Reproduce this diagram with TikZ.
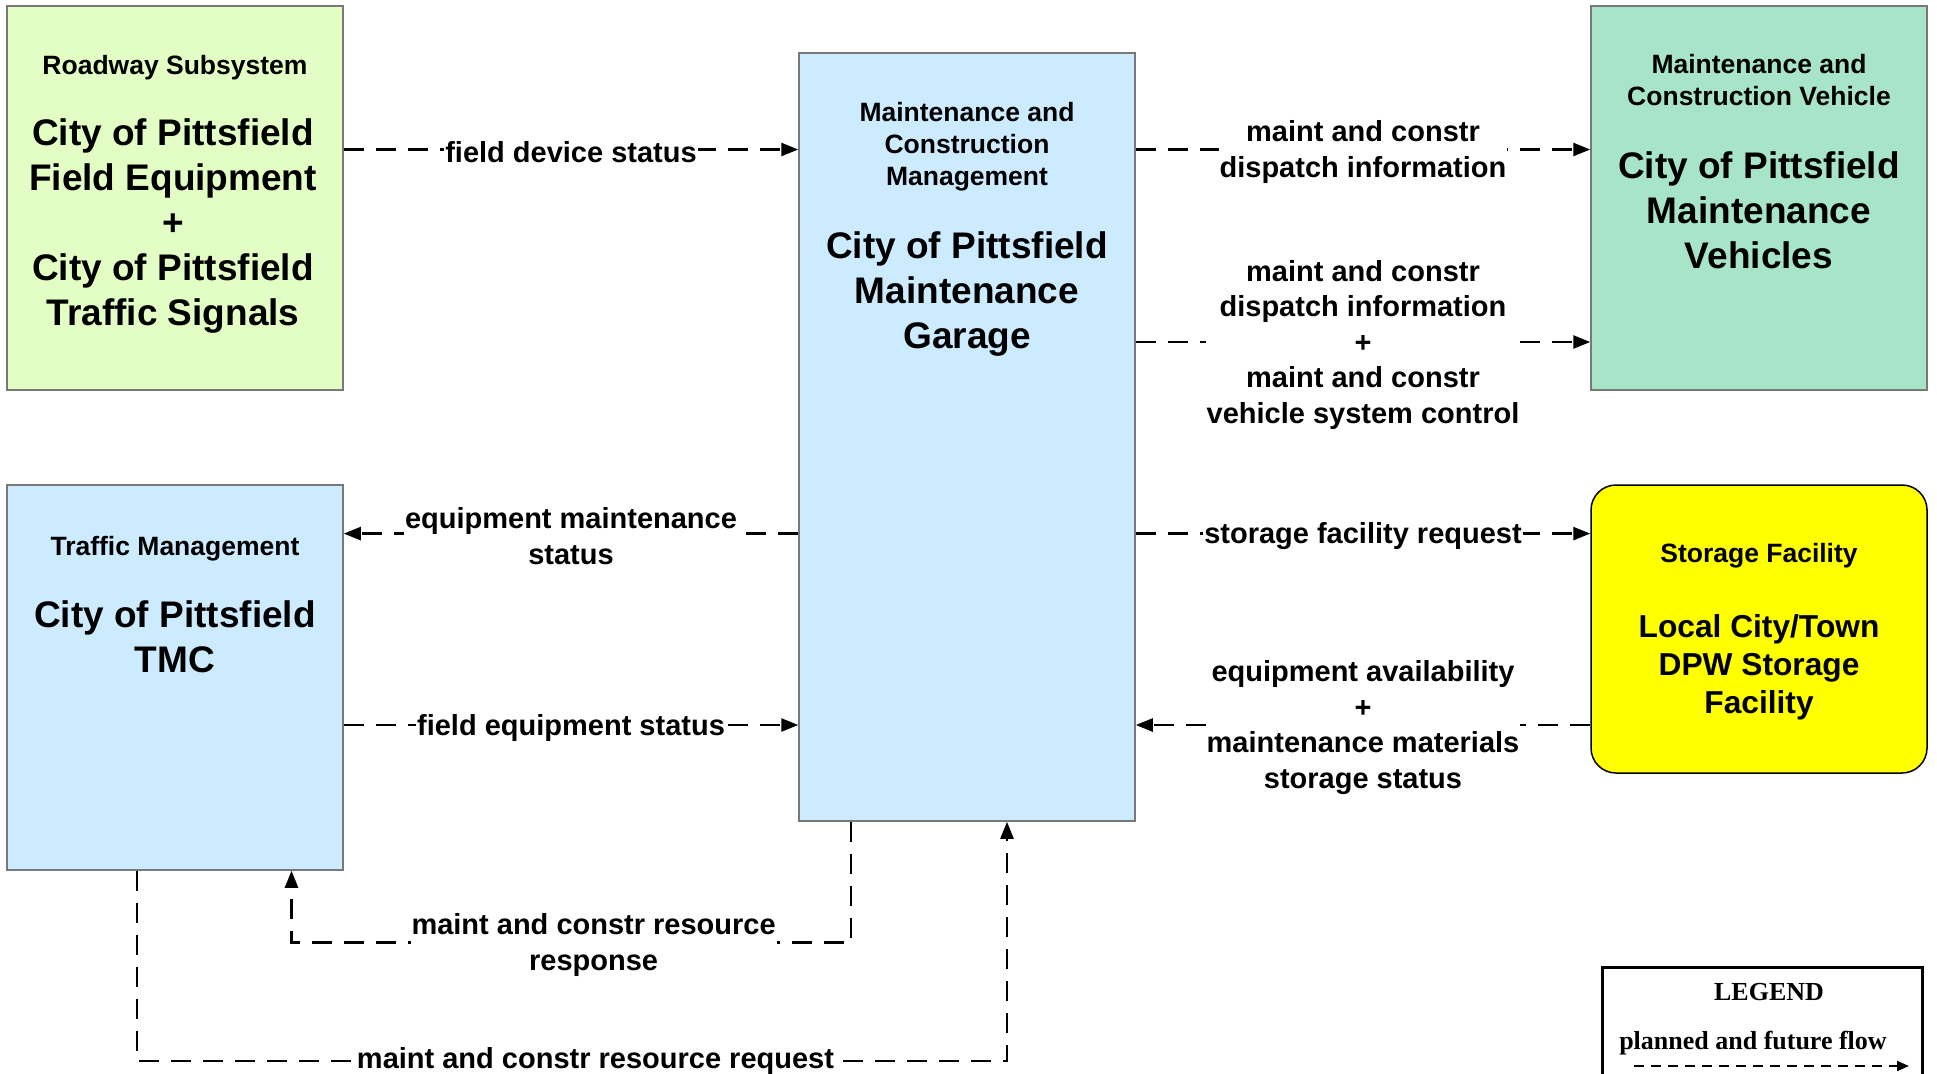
\documentclass[tikz,border=0pt]{standalone}
\usepackage{fontspec}
\setmainfont{Liberation Sans}
\newfontfamily\legserif{Liberation Serif}
\usetikzlibrary{arrows.meta}
\definecolor{boxgray}{RGB}{120,120,120}
\definecolor{limefill}{RGB}{226,254,196}
\definecolor{bluefill}{RGB}{204,235,255}
\definecolor{mintfill}{RGB}{168,228,200}
\definecolor{yellowfill}{RGB}{255,255,0}
\tikzset{
  box/.style={draw=boxgray, line width=1.5pt, inner sep=0pt},
  subttl/.style={font=\fontsize{26.5}{32}\selectfont\bfseries, align=center},
  bigttl/.style={font=\fontsize{37}{45}\selectfont\bfseries, align=center},
  lbl/.style={font=\fontsize{29}{35.5}\selectfont\bfseries, align=center, fill=white, inner sep=1pt, yshift=-2.5pt},
  flow/.style={line width=2.5pt, dash pattern=on 20pt off 12pt, -{Triangle[length=17pt,width=13pt]}},
}
\begin{document}
\begin{tikzpicture}[x=1pt,y=-1pt]
\useasboundingbox (0,0) rectangle (1937,1073);
\fill[white] (0,0) rectangle (1937,1073);

% boxes
\node[box, fill=limefill, minimum width=336pt, minimum height=384pt] (rs) at (175,198) {};
\node[box, fill=bluefill, minimum width=336pt, minimum height=768pt] (mcm) at (967,437) {};
\node[box, fill=mintfill, minimum width=336pt, minimum height=384pt] (mcv) at (1759,198) {};
\node[box, fill=bluefill, minimum width=336pt, minimum height=385pt] (tm) at (175,677.5) {};
\node[box, draw=black, rounded corners=25pt, fill=yellowfill, minimum width=336pt, minimum height=288pt] (sf) at (1759,629) {};

% box texts
\node[subttl] (rssub) at (175,67.5) {Roadway Subsystem};
\node[bigttl] (rsttl) at (173,226.5) {City of Pittsfield\\Field Equipment\\+\\City of Pittsfield\\Traffic Signals};

\node[subttl] (mcmsub) at (967,146.5) {Maintenance and\\Construction\\Management};
\node[bigttl] (mcmttl) at (967,294) {City of Pittsfield\\Maintenance\\Garage};

\node[subttl] (mcvsub) at (1759,80) {Maintenance and\\Construction Vehicle};
\node[bigttl] (mcvttl) at (1759,210.5) {City of Pittsfield\\Maintenance\\Vehicles};

\node[subttl] (tmsub) at (175,548.5) {Traffic Management};
\node[bigttl] (tmttl) at (175,636.5) {City of Pittsfield\\TMC};

\node[subttl] (sfsub) at (1759,555.5) {Storage Facility};
\node[font=\fontsize{31.7}{38}\selectfont\bfseries, align=center] (sfttl) at (1759,667.5) {Local City/Town\\DPW Storage\\Facility};

% levels
\coordinate (ya) at (0,149.5);
\coordinate (yb) at (0,342);
\coordinate (yc) at (0,533.6);
\coordinate (yd) at (0,725);
\coordinate (xr) at (851,942.5);
\coordinate (xl) at (291.5,942.5);
\coordinate (qa) at (137,1061);
\coordinate (qb) at (1007,1061);

% flows
\draw[flow] (rs.east |- ya) -- node[lbl] {field device status} (mcm.west |- ya);
\draw[flow] (mcm.east |- ya) -- node[lbl] {maint and constr\\dispatch information} (mcv.west |- ya);
\draw[flow] (mcm.east |- yb) -- node[lbl] {maint and constr\\dispatch information\\+\\maint and constr\\vehicle system control} (mcv.west |- yb);
\draw[flow] (mcm.west |- yc) -- node[lbl] {equipment maintenance\\status} (tm.east |- yc);
\draw[flow] (mcm.east |- yc) -- node[lbl] {storage facility request} (sf.west |- yc);
\draw[flow] (tm.east |- yd) -- node[lbl] {field equipment status} (mcm.west |- yd);
\draw[flow] (sf.west |- yd) -- node[lbl] {equipment availability\\+\\maintenance materials\\storage status} (mcm.east |- yd);
\draw[flow] (mcm.south -| xr) -- (xr) -- node[lbl, pos=0.46] {maint and constr resource\\response} (xl) -- (tm.south -| xl);
\draw[flow] (tm.south -| qa) -- (qa) -- node[lbl, pos=0.527, yshift=3pt] {maint and constr resource request} (qb) -- (mcm.south -| qb);

% legend
\node[draw=black, line width=3pt, minimum width=320pt, minimum height=140pt, inner sep=0pt] (leg) at (1762,1037) {};
\node[font=\fontsize{26}{30}\selectfont\legserif\bfseries] (legttl) at (1769,992) {LEGEND};
\node[font=\fontsize{26}{30}\selectfont\legserif\bfseries] (legtxt) at (1753,1043) {planned and future flow};
\coordinate (la) at (1634,1066);
\coordinate (lb) at (1909,1066);
\draw[line width=2pt, dash pattern=on 10pt off 7pt, -{Triangle[length=12pt,width=10pt]}] (la) -- (lb);
\end{tikzpicture}
\end{document}
